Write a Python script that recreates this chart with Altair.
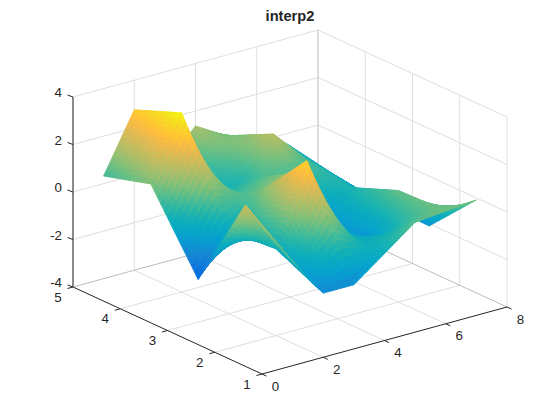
import altair as alt
import numpy as np

# surface heights, one row per y = 1..5, columns x = 1..7
x_knots = [1, 2, 3, 4, 5, 6, 7]
y_knots = [1, 2, 3, 4, 5]
z_y1 = [0.36, -1.3, -1.3, -0.34, 0.63, 0.75, 0.86]
z_y2 = [1.85, -0.35, 3.0, -0.3, -1.1, 0.69, -1.15]
z_y3 = [-2.2, -0.5, 0.77, 1.2, -0.9, -0.1, -1.1]
z_y4 = [0.9, 3.54, -0.3, 0.0, 1.59, 0.27, -0.84]
z_y5 = [0.32, 2.75, 0.0, 1.37, 0.6, 0.0, -0.45]
Z = np.array([z_y1, z_y2, z_y3, z_y4, z_y5])

parula = ["#352a87","#363093","#3637a0","#353dad","#3243ba","#2c4ac7","#2053d4","#0f5cdd","#0363e1","#0268e1","#046de0","#0871de","#0d75dc","#1079da","#127dd8","#1481d6","#1485d4","#1389d3","#108ed2","#0c93d2","#0998d1","#079ccf","#06a0cd","#06a4ca","#06a7c6","#07a9c2","#0cacbe","#0faeb9","#15b1b4","#1db3af","#25b5a9","#2eb7a4","#38b99e","#42bb98","#4dbc92","#59bd8c","#65be86","#71bf80","#7cbf7b","#87bf77","#92bf73","#9cbf6f","#a5be6b","#aebd67","#b7bd64","#c0bc60","#c8bc5d","#d1bb59","#d9ba56","#e1ba52","#e9ba4e","#f1ba49","#f8bb44","#fdbe3d","#ffc337","#fec832","#fccd2e","#fad32a","#f7d826","#f5de21","#f5e41d","#f5eb18","#f6f113","#f9fb0e"]
color_min, color_max = -3.13, 3.54

x_ticks = [0, 2, 4, 6, 8]
y_ticks = [1, 2, 3, 4, 5]
z_ticks = [-4, -2, 0, 2, 4]
title_text = "interp2"

W, H = 530, 390
ORIGIN = (262.0, 374.0)
UX = (245 / 8, -67 / 8)
UY = (-189 / 4, -87 / 4)
UZ = (0.0, -190 / 8)


def proj(x, y, z):
    px = ORIGIN[0] + x * UX[0] + (y - 1) * UY[0] + (z + 4) * UZ[0] - 8
    py = ORIGIN[1] + x * UX[1] + (y - 1) * UY[1] + (z + 4) * UZ[1] - 8
    return round(float(px), 2), round(float(py), 2)


N = 14
features = []
ts = np.linspace(0, 1, N + 1)
for i in range(len(x_knots) - 2, -1, -1):
    for j in range(len(y_knots) - 2, -1, -1):
        def bil(u, v):
            return ((1 - u) * (1 - v) * Z[j, i] + u * (1 - v) * Z[j, i + 1]
                    + (1 - u) * v * Z[j + 1, i] + u * v * Z[j + 1, i + 1])
        for a in range(N - 1, -1, -1):
            for b in range(N - 1, -1, -1):
                corners = [(ts[a], ts[b]), (ts[a + 1], ts[b]), (ts[a + 1], ts[b + 1]), (ts[a], ts[b + 1])]
                pts = [proj(x_knots[i] + u, y_knots[j] + v, bil(u, v)) for u, v in corners]
                zc = round(float(np.mean([bil(u, v) for u, v in corners])), 3)
                features.append({
                    "type": "Feature",
                    "properties": {"z": zc},
                    "geometry": {"type": "Polygon", "coordinates": [[list(p) for p in pts + pts[:1]]]},
                })

cdomain = [float(v) for v in np.linspace(color_min, color_max, len(parula))]
cscale = alt.Scale(domain=cdomain, range=parula, interpolate="rgb")
surface = alt.Chart(alt.InlineData(values=features)).mark_geoshape(strokeWidth=0.9, strokeJoin="round").encode(
    color=alt.Color("properties.z:Q", scale=cscale, legend=None),
    stroke=alt.Stroke("properties.z:Q", scale=cscale, legend=None),
).project(type="identity", scale=1, translate=[0, 0])

xs = alt.Scale(domain=[0, W], range=[0, W])
ys = alt.Scale(domain=[0, H], range=[0, H])


def segs(items):
    rows = []
    for a, b in items:
        pa, pb = proj(*a), proj(*b)
        rows.append({"x": pa[0], "y": pa[1], "x2": pb[0], "y2": pb[1]})
    return rows


def rules(items, color, width=1.0):
    return alt.Chart(alt.InlineData(values=segs(items))).mark_rule(color=color, strokeWidth=width).encode(
        x=alt.X("x:Q", scale=xs, axis=None), y=alt.Y("y:Q", scale=ys, axis=None),
        x2="x2:Q", y2="y2:Q")


grid = []
for x in x_ticks[1:-1]:
    grid.append(((x, 1, -4), (x, 5, -4)))
    grid.append(((x, 5, -4), (x, 5, 4)))
for y in y_ticks[1:-1]:
    grid.append(((0, y, -4), (8, y, -4)))
    grid.append(((8, y, -4), (8, y, 4)))
for z in z_ticks[1:]:
    grid.append(((0, 5, z), (8, 5, z)))
    grid.append(((8, 5, z), (8, 1, z)))
grid.append(((8, 1, -4), (8, 1, 4)))
grid_layer = rules(grid, "#dedede")
back_layer = rules([((8, 5, -4), (8, 5, 4)), ((0, 5, -4), (8, 5, -4)), ((8, 5, -4), (8, 1, -4))], "#bcbcbc")

axis_segs = [((0, 1, -4), (8, 1, -4)), ((0, 1, -4), (0, 5, -4))]
axis_layer = rules(axis_segs, "#262626")
z_axis = rules([((0, 5, -4), (0, 5, 4))], "#8a8a8a", 2.0)

tick_rows = []
for x in x_ticks:
    a = proj(x, 1, -4)
    tick_rows.append({"x": a[0], "y": a[1], "x2": a[0] + 4.5, "y2": a[1] + 2.1})
for y in y_ticks:
    a = proj(0, y, -4)
    tick_rows.append({"x": a[0], "y": a[1], "x2": a[0] - 5.5, "y2": a[1] + 1.5})
for z in z_ticks:
    a = proj(0, 5, z)
    tick_rows.append({"x": a[0], "y": a[1], "x2": a[0] - 5.5, "y2": a[1] - 2.0})
tick_layer = alt.Chart(alt.InlineData(values=tick_rows)).mark_rule(color="#262626", strokeWidth=1).encode(
    x=alt.X("x:Q", scale=xs, axis=None), y=alt.Y("y:Q", scale=ys, axis=None), x2="x2:Q", y2="y2:Q")

labels = []
for x in x_ticks:
    a = proj(x, 1, -4)
    labels.append({"x": a[0] + 13.5, "y": a[1] + 12.5, "t": str(x), "a": "center"})
for y in y_ticks:
    a = proj(0, y, -4)
    labels.append({"x": a[0] - 15, "y": a[1] + 10.5, "t": str(y), "a": "center"})
for z in z_ticks:
    a = proj(0, 5, z)
    labels.append({"x": a[0] - 11, "y": a[1] - 4, "t": str(z), "a": "right"})


def text_layer(rows, align, size=13.33, weight="normal"):
    return alt.Chart(alt.InlineData(values=rows)).mark_text(
        font="Liberation Sans", fontSize=size, color="#262626",
        fontWeight=weight, align=align, baseline="middle").encode(
        x=alt.X("x:Q", scale=xs, axis=None), y=alt.Y("y:Q", scale=ys, axis=None), text="t:N")


title_layer = text_layer([{"x": 290 - 8, "y": 17.3 - 8, "t": title_text}], "center", size=14.67, weight="bold")

chart = alt.layer(
    grid_layer, back_layer, axis_layer, z_axis, tick_layer,
    text_layer([r for r in labels if r["a"] == "center"], "center"),
    text_layer([r for r in labels if r["a"] == "right"], "right"),
    title_layer,
    surface,
).resolve_scale(color="independent", stroke="independent").properties(
    width=W, height=H, padding=0, autosize=alt.AutoSizeParams(type="none")
).configure_view(stroke=None)

chart.save("out.html", embed_options={"renderer": "svg", "actions": False})
